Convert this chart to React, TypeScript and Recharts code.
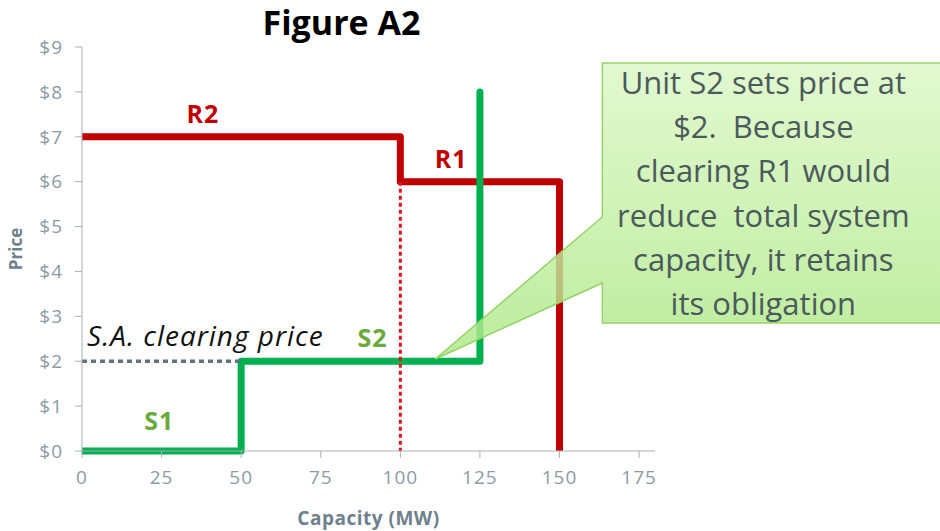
import React from 'react';
import { LineChart, Line, XAxis, YAxis, ReferenceDot, Label } from 'recharts';

const xTicks = [0, 25, 50, 75, 100, 125, 150, 175];
const yTicks = [0, 1, 2, 3, 4, 5, 6, 7, 8, 9];

// Demand (reserve) curve R2 -> R1
const rCurve = [
  { cap: 0, price: 7 },
  { cap: 100, price: 7 },
  { cap: 100, price: 6 },
  { cap: 150, price: 6 },
  { cap: 150, price: 0 },
];
// Supply curve S1 -> S2
const sCurve = [
  { cap: 0, price: 0 },
  { cap: 50, price: 0 },
  { cap: 50, price: 2 },
  { cap: 125, price: 2 },
  { cap: 125, price: 8 },
];
const r1Marker = [
  { cap: 100, price: 6 },
  { cap: 100, price: 0 },
];
const saClearing = [
  { cap: 0, price: 2 },
  { cap: 50, price: 2 },
];

const labels = [
  { text: 'R2', cap: 38, price: 7.3, color: '#C00000', anchor: 'middle', italic: false },
  { text: 'R1', cap: 116, price: 6.3, color: '#C00000', anchor: 'middle', italic: false },
  { text: 'S2', cap: 91.3, price: 2.32, color: '#6AAA3A', anchor: 'middle', italic: false },
  { text: 'S1', cap: 24.3, price: 0.47, color: '#6AAA3A', anchor: 'middle', italic: false },
  { text: 'S.A. clearing price', cap: 1.6, price: 2.34, color: '#111111', anchor: 'start', italic: true },
];

const calloutLines = [
  'Unit S2 sets price at',
  '$2.  Because',
  'clearing R1 would',
  'reduce  total system',
  'capacity, it retains',
  'its obligation',
];
const calloutTip = { cap: 111, price: 2.05 };

const FONT = '"Open Sans", Lato, sans-serif';
const AXIS_GRAY = '#a7b1b9';
const TICK_GRAY = '#8c9ba6';
const TITLE_GRAY = '#6e808c';

const Callout = (props: any) => {
  const { cx, cy } = props;
  if (cx == null || cy == null) return null;
  const left = cx + 167;
  const top = cy - 296;
  const bottom = cy - 36;
  const right = left + 400;
  const path = `M ${left} ${top} L ${right} ${top} L ${right} ${bottom} L ${left} ${bottom} L ${left} ${cy - 76} L ${cx} ${cy} L ${left} ${cy - 142} Z`;
  const textX = left + 161;
  return (
    <g>
      <defs>
        <linearGradient id="calloutGrad" x1="0" y1="0" x2="0" y2="1">
          <stop offset="0%" stopColor="#dcf7c6" />
          <stop offset="100%" stopColor="#aee887" />
        </linearGradient>
      </defs>
      <path d={path} fill="url(#calloutGrad)" fillOpacity={0.82} stroke="#94d366" strokeWidth={1.5} />
      {calloutLines.map((line, i) => (
        <text
          key={i}
          x={textX}
          y={top + 31 + i * 44.2}
          textAnchor="middle"
          fontFamily={FONT}
          fontSize={31}
          fill="#4b5a5a"
          style={{ whiteSpace: 'pre' }}
        >
          {line}
        </text>
      ))}
    </g>
  );
};

export default function App() {
  return (
    <div style={{ position: 'absolute', left: 0, top: 0, width: 940, height: 531, background: '#fff' }}>
      <div
        style={{
          position: 'absolute',
          left: 0,
          width: 683,
          top: 2,
          lineHeight: '40px',
          textAlign: 'center',
          fontFamily: FONT,
          fontWeight: 700,
          fontSize: 34,
          color: '#000',
        }}
      >
        Figure A2
      </div>
      <LineChart
        width={940}
        height={531}
        margin={{ top: 47, right: 285, bottom: 0, left: 0 }}
        style={{ position: 'absolute', left: 0, top: 0 }}
      >
        <XAxis
          type="number"
          dataKey="cap"
          domain={[0, 180]}
          ticks={xTicks}
          allowDataOverflow
          height={80}
          stroke={AXIS_GRAY}
          tickSize={7}
          tick={{ fill: TICK_GRAY, fontSize: 19, fontFamily: FONT, dy: 11, letterSpacing: 1 }}
          tickLine={{ stroke: AXIS_GRAY }}
        >
          <Label
            value="Capacity (MW)"
            position="insideBottom"
            offset={6}
            style={{ fill: TITLE_GRAY, fontSize: 19, fontWeight: 700, fontFamily: FONT, letterSpacing: 0.5 }}
          />
        </XAxis>
        <YAxis
          type="number"
          dataKey="price"
          domain={[0, 9]}
          ticks={yTicks}
          width={82}
          stroke={AXIS_GRAY}
          tickSize={7}
          tickFormatter={(v: number) => `$${v}`}
          tick={{ fill: TICK_GRAY, fontSize: 19, fontFamily: FONT, dx: -10, letterSpacing: 1 }}
          tickLine={{ stroke: AXIS_GRAY }}
        >
          <Label
            value="Price"
            angle={-90}
            position="insideLeft"
            offset={16}
            style={{ fill: TITLE_GRAY, fontSize: 17, fontWeight: 700, fontFamily: FONT, textAnchor: 'middle' }}
          />
        </YAxis>
        <Line
          data={rCurve}
          dataKey="price"
          type="linear"
          stroke="#C00000"
          strokeWidth={7}
          strokeLinejoin="round"
          dot={false}
          activeDot={false}
          isAnimationActive={false}
        />
        <Line
          data={sCurve}
          dataKey="price"
          type="linear"
          stroke="#00B050"
          strokeWidth={7}
          strokeLinejoin="round"
          strokeLinecap="round"
          dot={false}
          activeDot={false}
          isAnimationActive={false}
        />
        <Line
          data={r1Marker}
          dataKey="price"
          type="linear"
          stroke="#E0141E"
          strokeWidth={3}
          strokeDasharray="4 3"
          dot={false}
          activeDot={false}
          isAnimationActive={false}
        />
        <Line
          data={saClearing}
          dataKey="price"
          type="linear"
          stroke="#5f7380"
          strokeWidth={3.5}
          strokeDasharray="5 4"
          dot={false}
          activeDot={false}
          isAnimationActive={false}
        />
        {labels.map((l) => (
          <ReferenceDot
            key={l.text}
            x={l.cap}
            y={l.price}
            r={0}
            shape={(p: any) => (
              <text
                x={p.cx}
                y={p.cy}
                textAnchor={l.anchor as any}
                fill={l.color}
                fontFamily={FONT}
                fontSize={l.italic ? 28 : 25}
                fontWeight={l.italic ? 400 : 700}
                fontStyle={l.italic ? 'italic' : 'normal'}
                letterSpacing={1}
              >
                {l.text}
              </text>
            )}
          />
        ))}
        <ReferenceDot x={calloutTip.cap} y={calloutTip.price} r={0} shape={Callout} />
      </LineChart>
    </div>
  );
}
